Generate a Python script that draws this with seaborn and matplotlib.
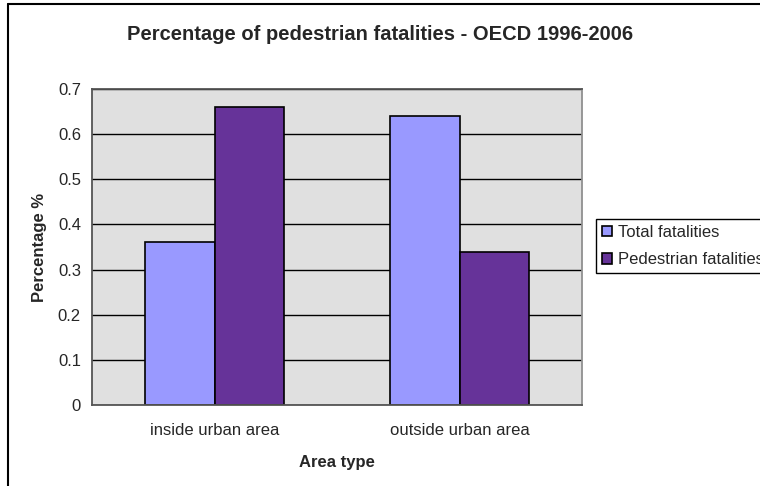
import matplotlib
matplotlib.use("Agg")
import matplotlib.pyplot as plt
from matplotlib.lines import Line2D
import pandas as pd
import seaborn as sns

# Chart values
areas = ["inside urban area", "outside urban area"]
series_names = ["Total fatalities", "Pedestrian fatalities"]
total_fatalities = [0.36, 0.64]
pedestrian_fatalities = [0.66, 0.34]
y_ticks = [0, 0.1, 0.2, 0.3, 0.4, 0.5, 0.6, 0.7]
y_tick_labels = ["0", "0.1", "0.2", "0.3", "0.4", "0.5", "0.6", "0.7"]

df = pd.DataFrame({
    "area": areas + areas,
    "series": [series_names[0]] * len(areas) + [series_names[1]] * len(areas),
    "value": total_fatalities + pedestrian_fatalities,
})

sns.set_style("white")
plt.rcParams["font.family"] = ["Liberation Sans", "DejaVu Sans"]

fig = plt.figure(figsize=(7.6, 4.86), dpi=100)
ax = fig.add_axes([92 / 760, 1 - 405 / 486, 490 / 760, 316 / 486])

sns.barplot(data=df, x="area", y="value", hue="series",
            palette=["#9999FF", "#663399"], saturation=1,
            width=0.57, edgecolor="black", linewidth=1.2,
            errorbar=None, ax=ax)

ax.set_facecolor("#E0E0E0")
ax.set_xlim(-0.5, len(areas) - 0.5)
ax.set_ylim(0, 0.7)
ax.set_yticks(y_ticks)
ax.set_yticklabels(y_tick_labels, fontsize=12)
ax.yaxis.grid(True, color="black", linewidth=1)
ax.set_axisbelow(True)

# category labels centred, tick marks at category boundaries
ax.set_xticks(range(len(areas)))
ax.set_xticklabels(areas, fontsize=12)
ax.set_xticks([i - 0.5 for i in range(len(areas) + 1)], minor=True)
ax.tick_params(axis="x", which="major", length=0, pad=13)
ax.tick_params(axis="x", which="minor", length=5, width=1, color="#333333", direction="out")
ax.tick_params(axis="y", length=5, width=1, color="#333333", direction="out", pad=3)

for side in ["left", "bottom", "top"]:
    ax.spines[side].set_color("#555555")
    ax.spines[side].set_linewidth(1.3)
ax.spines["right"].set_color("#909090")
ax.spines["right"].set_linewidth(1.3)

ax.set_xlabel("Area type", fontweight="bold", fontsize=12, labelpad=12)
ax.set_ylabel("Percentage %", fontweight="bold", fontsize=12, labelpad=8)

fig.text(0.5, 1 - 35 / 486, "Percentage of pedestrian fatalities - OECD 1996-2006",
         ha="center", va="center", fontweight="bold", fontsize=14.5)

handles, labels = ax.get_legend_handles_labels()
ax.get_legend().remove()
fig.legend(handles, labels, loc="upper left", bbox_to_anchor=(596 / 760, 1 - 219 / 486),
           frameon=True, fancybox=False, edgecolor="black", framealpha=1,
           borderaxespad=0, handlelength=0.6, handleheight=0.6,
           handletextpad=0.4, fontsize=12, borderpad=0.35, labelspacing=0.75)

# chart border (only top and left visible in the reference)
fig.add_artist(Line2D([8 / 760, 8 / 760], [0, 1 - 4 / 486], transform=fig.transFigure,
                      color="black", linewidth=1.5))
fig.add_artist(Line2D([8 / 760, 1], [1 - 4 / 486, 1 - 4 / 486], transform=fig.transFigure,
                      color="black", linewidth=1.5))

fig.savefig("out.png", dpi=100)
